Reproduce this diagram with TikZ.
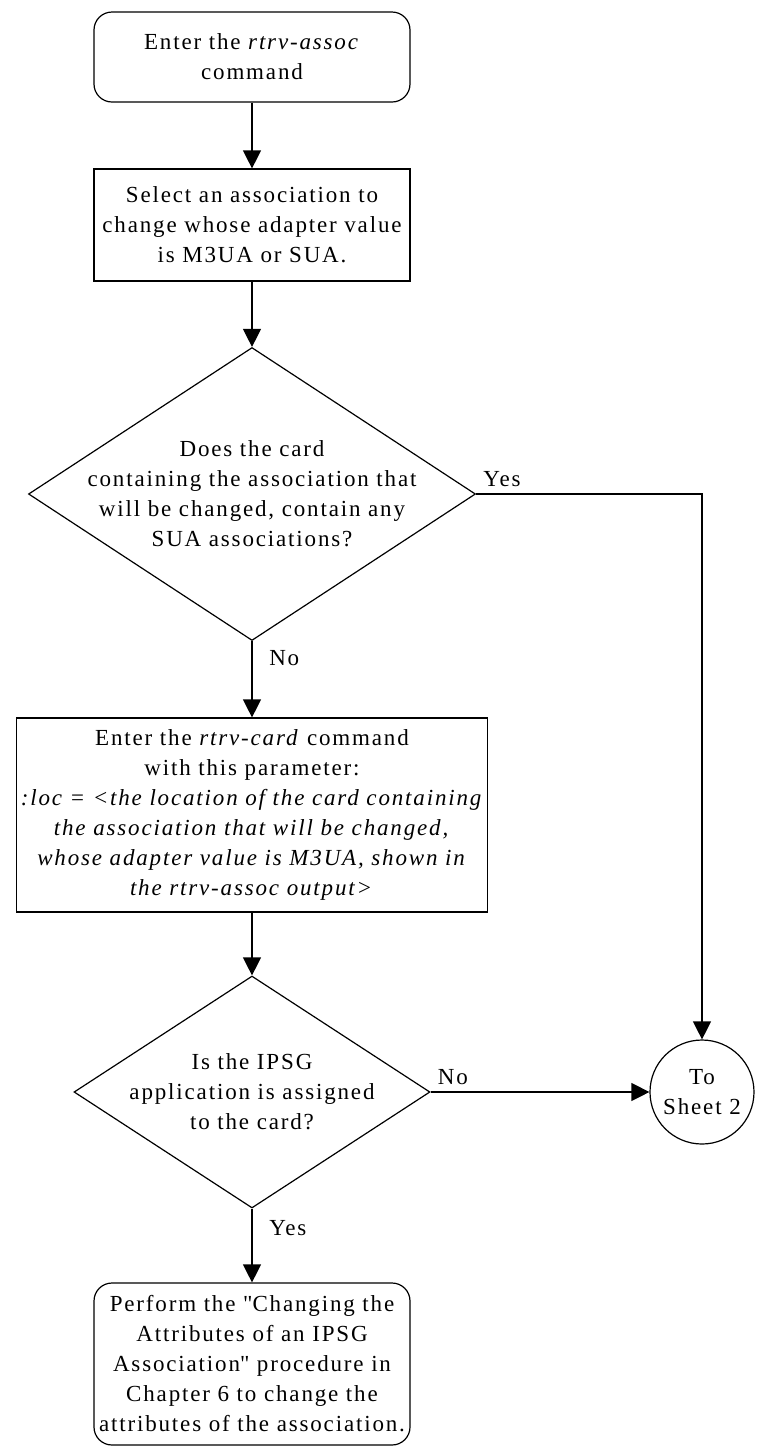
\documentclass[tikz,border=0pt]{standalone}
\usepackage{fontspec}
\setmainfont{Liberation Serif}[LetterSpace=8]
\usetikzlibrary{shapes.geometric, positioning, arrows.meta}
\tikzset{
  txt/.style={font=\fontsize{11.5}{15}\selectfont},
  termbox/.style={txt, draw, line width=0.6pt, rectangle, rounded corners=9pt, align=center, minimum width=158pt, inner xsep=2pt},
  procbox/.style={txt, draw, line width=0.6pt, rectangle, align=center, minimum width=158pt, inner xsep=2pt},
  decision/.style={draw, line width=0.6pt, diamond, inner sep=0pt},
  offpage/.style={txt, draw, line width=0.6pt, circle, align=center, minimum size=52pt, inner sep=0pt},
  flow/.style={line width=0.6pt, -{Triangle[width=9pt,length=9pt]}},
}
\newcommand{\dq}{\XeTeXglyph\XeTeXcharglyph"22\relax}

\begin{document}
\begin{tikzpicture}[x=0.5pt,y=-0.5pt]
\useasboundingbox (0,0) rectangle (763,1448);
%inizio
\node[termbox, minimum height=45pt] (start) at (252,57) {Enter the \textit{rtrv-assoc}\\command};
\node[procbox, minimum height=56pt] (select) at (252,225) {Select an association to\\change whose adapter value\\is M3UA or SUA.};
%prima domanda
\node[decision, minimum width=223.5pt, minimum height=146.5pt,
  label={[txt, align=center]center:{Does the card\\containing the association that\\will be changed, contain any\\SUA associations?}}] (sua) at (252,494) {};
%rtrv-card
\node[procbox, minimum height=97pt] (card) at (252,815) {Enter the \textit{rtrv-card} command\\with this parameter:\\
  \textit{:loc = <the location of the card containing}\\\textit{the association that will be changed,}\\
  \textit{whose adapter value is M3UA, shown in}\\\textit{the rtrv-assoc output>}};
%seconda domanda
\node[decision, minimum width=178pt, minimum height=116pt,
  label={[txt, align=center]center:{Is the IPSG\\application is assigned\\to the card?}}] (ipsg) at (252,1092) {};
\node[offpage] (sheet) at (702,1092) {To\\Sheet 2};
%fine
\node[termbox, minimum height=81pt] (perform) at (252,1364) {Perform the \dq Changing the\\Attributes of an IPSG\\Association\dq{} procedure in\\Chapter 6 to change the\\attributes of the association.};
%frecce
\draw[flow] (start) -- (select);
\draw[flow] (select) -- (sua);
\draw[flow] (sua) -- node[txt, pos=0.22, right=5pt]{No} (card);
\draw[flow] (sua.east) -| node[txt, pos=0, above right]{Yes} (sheet);
\draw[flow] (card) -- (ipsg);
\draw[flow] (ipsg) -- node[txt, pos=0, above right]{No} (sheet);
\draw[flow] (ipsg) -- node[txt, pos=0.26, right=5pt]{Yes} (perform);
\end{tikzpicture}
\end{document}
